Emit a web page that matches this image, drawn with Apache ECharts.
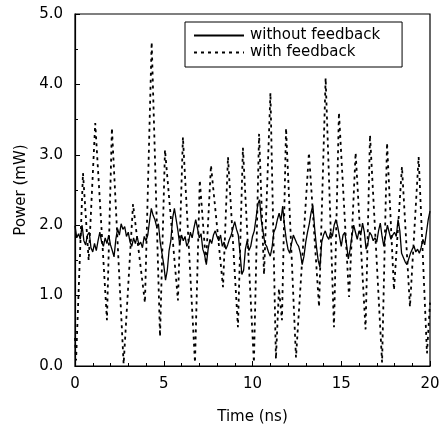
<!DOCTYPE html>
<html>
<head>
<meta charset="utf-8">
<script src="https://cdn.jsdelivr.net/npm/echarts@6/dist/echarts.min.js"></script>
<style>
html, body { margin: 0; padding: 0; background: #fff; }
#chart { width: 444px; height: 430px; }
</style>
</head>
<body>
<div id="chart"></div>
<script>
// without feedback (solid), sampled every 0.1 ns from 0 to 20 ns
var stepWithout = 0.1;
var powerWithout = [
    1.99, 1.82, 1.88, 1.80, 2.00, 1.78, 1.72, 1.86, 1.90, 1.68,
    1.62, 1.74, 1.64, 1.78, 1.90, 1.76, 1.70, 1.82, 1.74, 1.86,
    1.72, 1.64, 1.55, 1.80, 1.95, 1.86, 2.02, 1.94, 1.98, 1.84,
    1.90, 1.76, 1.70, 1.82, 1.74, 1.84, 1.72, 1.76, 1.68, 1.84,
    1.78, 1.86, 2.06, 2.24, 2.14, 2.08, 1.98, 2.02, 1.76, 1.60,
    1.44, 1.22, 1.36, 1.64, 1.78, 2.10, 2.24, 2.08, 1.92, 1.72,
    1.86, 1.78, 1.84, 1.70, 1.76, 1.90, 1.82, 1.96, 2.08, 1.96,
    1.82, 1.88, 1.66, 1.58, 1.44, 1.66, 1.80, 1.74, 1.86, 1.92,
    1.84, 1.78, 1.86, 1.70, 1.76, 1.66, 1.72, 1.80, 1.86, 1.96,
    2.05, 1.94, 1.86, 1.60, 1.30, 1.36, 1.66, 1.78, 1.64, 1.70,
    1.84, 1.92, 2.10, 2.30, 2.36, 2.06, 1.90, 1.74, 1.70, 1.62,
    1.56, 1.68, 1.90, 1.96, 2.08, 2.17, 2.06, 2.27, 2.00, 1.80,
    1.66, 1.60, 1.74, 1.86, 1.80, 1.74, 1.70, 1.60, 1.44, 1.56,
    1.76, 1.90, 2.02, 2.18, 2.28, 1.96, 1.70, 1.50, 1.40, 1.76,
    1.86, 1.92, 1.84, 1.80, 1.90, 1.84, 2.00, 2.08, 1.98, 1.84,
    1.70, 1.86, 1.90, 1.72, 1.52, 1.66, 1.84, 2.00, 1.90, 1.80,
    1.92, 1.86, 2.03, 1.90, 1.66, 1.74, 1.90, 1.86, 1.78, 1.82,
    1.76, 1.92, 2.03, 1.84, 1.70, 1.86, 2.00, 1.90, 1.80, 1.86,
    1.90, 1.84, 2.08, 1.92, 1.60, 1.54, 1.48, 1.44, 1.52, 1.60,
    1.66, 1.70, 1.62, 1.66, 1.60, 1.68, 1.80, 1.72, 1.90, 2.08,
    2.20
];

// with feedback (dashed), peaks and troughs
var timeWith = [0.00, 0.06, 0.45, 0.77, 1.14, 1.80, 2.08, 2.74, 3.27, 3.94, 4.32, 4.79, 5.07, 5.80, 6.08, 6.76, 7.03, 7.38, 7.66, 8.34, 8.62, 9.18, 9.46, 10.08, 10.37, 10.65, 11.01, 11.32, 11.49, 11.66, 11.89, 12.45, 13.18, 13.75, 14.12, 14.59, 14.87, 15.44, 15.81, 16.37, 16.62, 17.30, 17.58, 17.97, 18.42, 18.87, 19.36, 19.83, 20.00];
var powerWith = [0.40, 0.08, 2.74, 1.50, 3.45, 0.65, 3.38, 0.03, 2.30, 0.90, 4.60, 0.42, 3.07, 0.93, 3.25, 0.05, 2.64, 1.45, 2.85, 1.12, 2.97, 0.55, 3.10, 0.05, 3.30, 1.30, 3.88, 0.10, 1.10, 0.65, 3.38, 0.12, 3.03, 0.84, 4.09, 0.55, 3.60, 0.98, 3.03, 0.52, 3.28, 0.05, 3.17, 1.08, 2.83, 0.84, 2.97, 0.18, 0.90];

var xTicks = [0, 5, 10, 15, 20];
var yTicks = [0.0, 1.0, 2.0, 3.0, 4.0, 5.0];

function pairs(xs, ys) {
    var out = [];
    for (var i = 0; i < xs.length; i++) out.push([xs[i], ys[i]]);
    return out;
}
var timeWithout = powerWithout.map(function (_, i) { return +(i * stepWithout).toFixed(2); });

var font = 'DejaVu Sans, sans-serif';
var chart = echarts.init(document.getElementById('chart'), null, { renderer: 'canvas' });

chart.setOption({
    animation: false,
    backgroundColor: '#fff',
    textStyle: { fontFamily: font, color: '#000' },
    grid: { left: 75, right: 14, top: 14, bottom: 64, show: true, borderColor: '#000', borderWidth: 1.2, backgroundColor: 'transparent' },
    legend: {
        left: 185, top: 22,
        orient: 'vertical',
        padding: [6, 22, 7, 8],
        itemGap: 2,
        itemWidth: 50,
        itemHeight: 14,
        icon: 'inherit',
        itemStyle: { opacity: 0 },
        borderColor: '#000',
        borderWidth: 1,
        borderRadius: 0,
        textStyle: { fontSize: 15, fontFamily: font, color: '#000', padding: [0, 0, 0, 1] },
        data: ['without feedback', 'with feedback']
    },
    xAxis: {
        type: 'value',
        min: xTicks[0], max: xTicks[xTicks.length - 1], interval: 5,
        name: 'Time (ns)', nameLocation: 'middle', nameGap: 44,
        nameTextStyle: { fontSize: 15, color: '#000' },
        axisLine: { lineStyle: { color: '#000', width: 1.2 } },
        axisTick: { inside: true, length: 5, lineStyle: { color: '#000' } },
        minorTick: { show: true, splitNumber: 5, length: 3, lineStyle: { color: '#000' } },
        splitLine: { show: false },
        axisLabel: { fontSize: 15, color: '#000', margin: 11 }
    },
    yAxis: {
        type: 'value',
        min: yTicks[0], max: yTicks[yTicks.length - 1], interval: 1,
        name: 'Power (mW)', nameLocation: 'middle', nameGap: 46,
        nameTextStyle: { fontSize: 15, color: '#000' },
        axisLine: { show: true, lineStyle: { color: '#000', width: 1.2 } },
        axisTick: { show: true, inside: true, length: 5, lineStyle: { color: '#000' } },
        minorTick: { show: true, splitNumber: 2, length: 3, lineStyle: { color: '#000' } },
        splitLine: { show: false },
        axisLabel: { fontSize: 15, color: '#000', margin: 12, formatter: function (v) { return v.toFixed(1); } }
    },
    series: [{
        name: 'without feedback',
        type: 'line',
        symbol: 'none',
        color: '#000',
        lineStyle: { color: '#000', width: 1.3 },
        data: pairs(timeWithout, powerWithout),
        z: 3
    }, {
        name: 'with feedback',
        type: 'line',
        symbol: 'none',
        color: '#000',
        lineStyle: { color: '#000', width: 1.8, type: [3, 4] },
        data: pairs(timeWith, powerWith),
        z: 2
    }]
});
</script>
</body>
</html>
